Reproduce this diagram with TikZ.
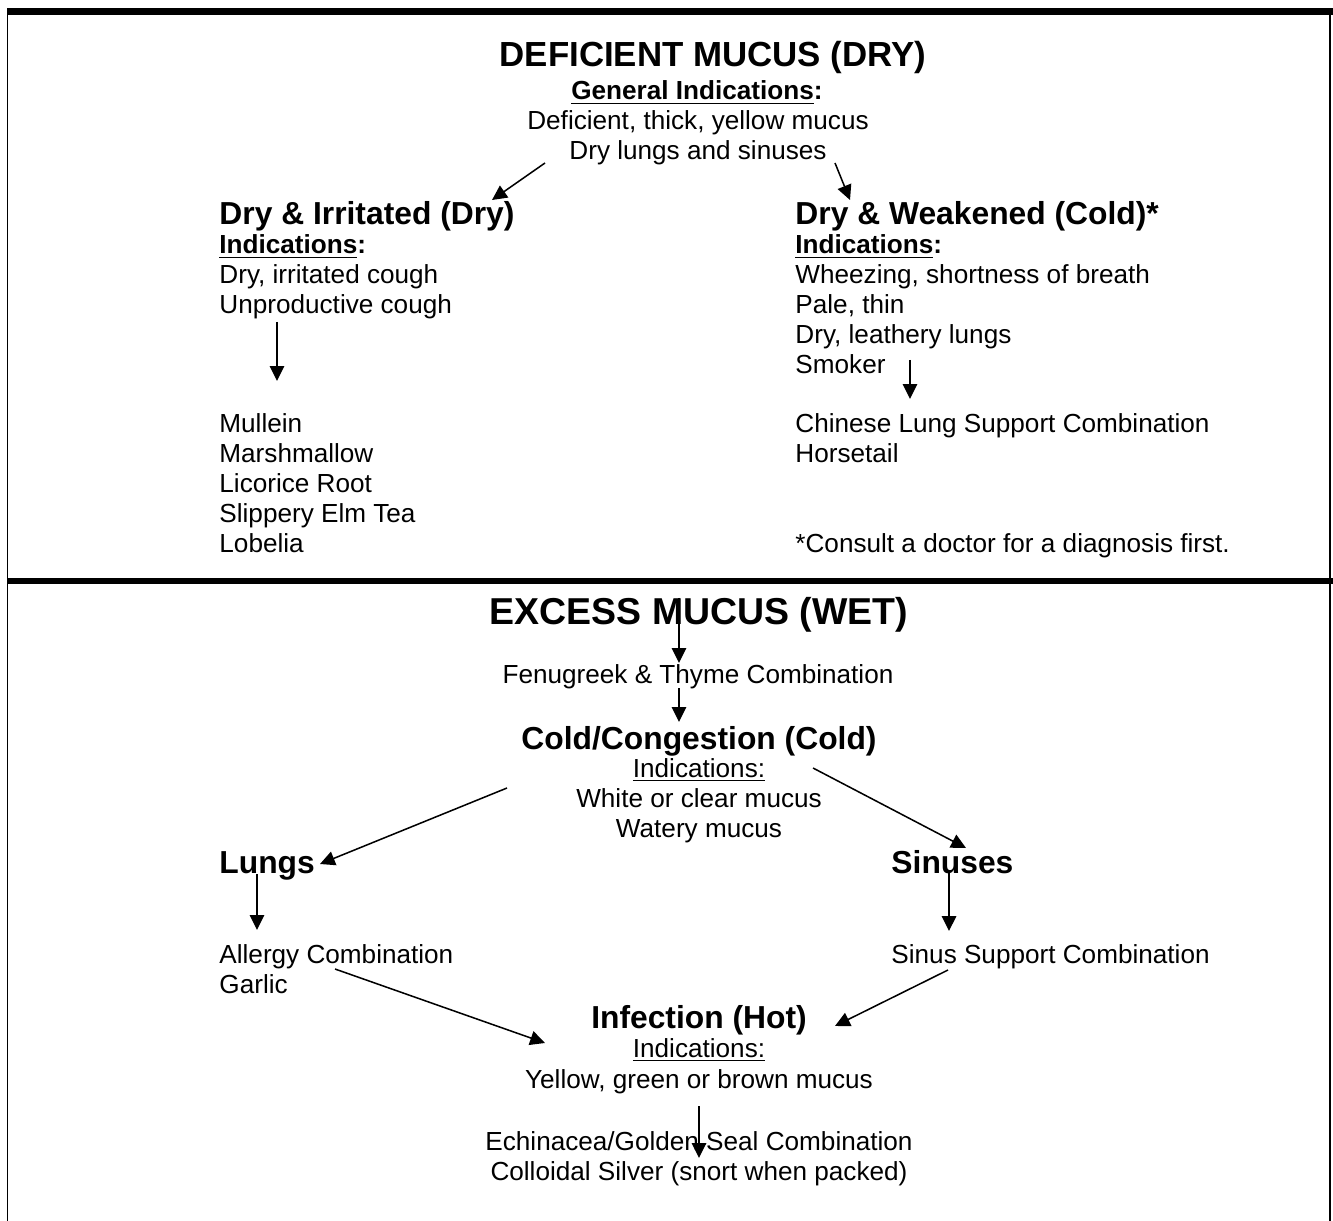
\documentclass[tikz,border=0pt]{standalone}
\usepackage{fontspec}
\setmainfont{Liberation Sans}
\usetikzlibrary{arrows.meta}
\begin{document}
\begin{tikzpicture}[x=0.45911pt,y=-0.45911pt,
  txt/.style={inner sep=0pt, font=\fontsize{12}{14}\selectfont},
  lt/.style={txt, anchor=base west},
  ct/.style={txt, anchor=base},
  bigtitle/.style={inner sep=0pt, anchor=base, font=\fontsize{16}{19}\selectfont\bfseries},
  headl/.style={inner sep=0pt, anchor=base west, font=\fontsize{14.6}{17}\selectfont\bfseries},
  headc/.style={inner sep=0pt, anchor=base, font=\fontsize{14.6}{17}\selectfont\bfseries},
  conn/.style={line width=0.7pt, -{Triangle[length=6.8pt,width=6.6pt]}},
  framev/.style={line width=0.9pt},
  bar/.style={line width=3.1pt}]
\useasboundingbox (0,0) rectangle (1333,1221);
% frame
\draw[bar] (7,11.5) -- (1333,11.5);
\draw[bar, line width=2.8pt] (7,581) -- (1333,581);
\draw[framev] (7.5,14) -- (7.5,1221);
\draw[framev] (1329.5,14) -- (1329.5,1221);

% ---------- DEFICIENT ----------
\node[bigtitle] (t1) at (713,67) {DEFICIENT MUCUS (DRY)};
\node[ct, font=\fontsize{12}{14}\selectfont\bfseries] (gi) at (697,100) {\underline{General Indications}:};
\node[ct] (g1) at (698,130) {Deficient, thick, yellow mucus};
\node[ct] (g2) at (698,160) {Dry lungs and sinuses};

\node[headl] (dl) at (219,225) {Dry \& Irritated (Dry)};
\node[lt, font=\fontsize{12}{14}\selectfont\bfseries] (dli) at (219,254) {\underline{Indications}:};
\node[lt] (dl1) at (219,284) {Dry, irritated cough};
\node[lt] (dl2) at (219,314) {Unproductive cough};
\node[lt] (dlr1) at (219,433) {Mullein};
\node[lt] (dlr2) at (219,463) {Marshmallow};
\node[lt] (dlr3) at (219,493) {Licorice Root};
\node[lt] (dlr4) at (219,523) {Slippery Elm Tea};
\node[lt] (dlr5) at (219,553) {Lobelia};

\node[headl] (dr) at (795,225) {Dry \& Weakened (Cold)*};
\node[lt, font=\fontsize{12}{14}\selectfont\bfseries] (dri) at (795,254) {\underline{Indications}:};
\node[lt] (dr1) at (795,284) {Wheezing, shortness of breath};
\node[lt] (dr2) at (795,314) {Pale, thin};
\node[lt] (dr3) at (795,344) {Dry, leathery lungs};
\node[lt] (dr4) at (795,374) {Smoker};
\node[lt] (drr1) at (795,433) {Chinese Lung Support Combination};
\node[lt] (drr2) at (795,463) {Horsetail};
\node[lt] (note) at (795,553) {*Consult a doctor for a diagnosis first.};

\coordinate (a1s) at (545,163); \coordinate (a1e) at (492,200);
\coordinate (a2s) at (835,163); \coordinate (a2e) at (850,200);
\coordinate (a3s) at (277,322); \coordinate (a3e) at (277,381);
\coordinate (a4s) at (910,360); \coordinate (a4e) at (910,399);
\draw[conn] (a1s) -- (a1e);
\draw[conn] (a2s) -- (a2e);
\draw[conn] (a3s) -- (a3e);
\draw[conn] (a4s) -- (a4e);

% ---------- EXCESS ----------
\node[bigtitle, font=\fontsize{17.2}{20}\selectfont\bfseries] (t2) at (699,625) {EXCESS MUCUS (WET)};
\node[ct] (fen) at (698,683) {Fenugreek \& Thyme Combination};
\node[headc] (cc) at (699,749) {Cold/Congestion (Cold)};
\node[ct] (cci) at (699,777) {\underline{Indications:}};
\node[ct] (cc1) at (699,807) {White or clear mucus};
\node[ct] (cc2) at (699,837) {Watery mucus};

\node[headl] (lu) at (219,873) {Lungs};
\node[headl] (si) at (891,873) {Sinuses};
\node[lt] (lu1) at (219,963) {Allergy Combination};
\node[lt] (lu2) at (219,993) {Garlic};
\node[lt] (si1) at (891,963) {Sinus Support Combination};

\node[headc] (inf) at (699,1028) {Infection (Hot)};
\node[ct] (infi) at (699,1057) {\underline{Indications:}};
\node[ct] (inf1) at (699,1088) {Yellow, green or brown mucus};
\node[ct] (ec1) at (699,1150) {Echinacea/Golden Seal Combination};
\node[ct] (ec2) at (699,1180) {Colloidal Silver (snort when packed)};

\coordinate (b1s) at (679,598); \coordinate (b1e) at (679,663);
\coordinate (b2s) at (679,688); \coordinate (b2e) at (679,722);
\coordinate (b3s) at (507,788); \coordinate (b3e) at (320,864);
\coordinate (b4s) at (813,768); \coordinate (b4e) at (966,848);
\coordinate (b5s) at (257,874); \coordinate (b5e) at (257,930);
\coordinate (b6s) at (949,873); \coordinate (b6e) at (949,931);
\coordinate (b7s) at (335,969); \coordinate (b7e) at (545,1043);
\coordinate (b8s) at (948,970); \coordinate (b8e) at (835,1026);
\coordinate (b9s) at (699,1106); \coordinate (b9e) at (699,1158);
\draw[conn] (b1s) -- (b1e);
\draw[conn] (b2s) -- (b2e);
\draw[conn] (b3s) -- (b3e);
\draw[conn] (b4s) -- (b4e);
\draw[conn] (b5s) -- (b5e);
\draw[conn] (b6s) -- (b6e);
\draw[conn] (b7s) -- (b7e);
\draw[conn] (b8s) -- (b8e);
\draw[conn] (b9s) -- (b9e);
\end{tikzpicture}
\end{document}
